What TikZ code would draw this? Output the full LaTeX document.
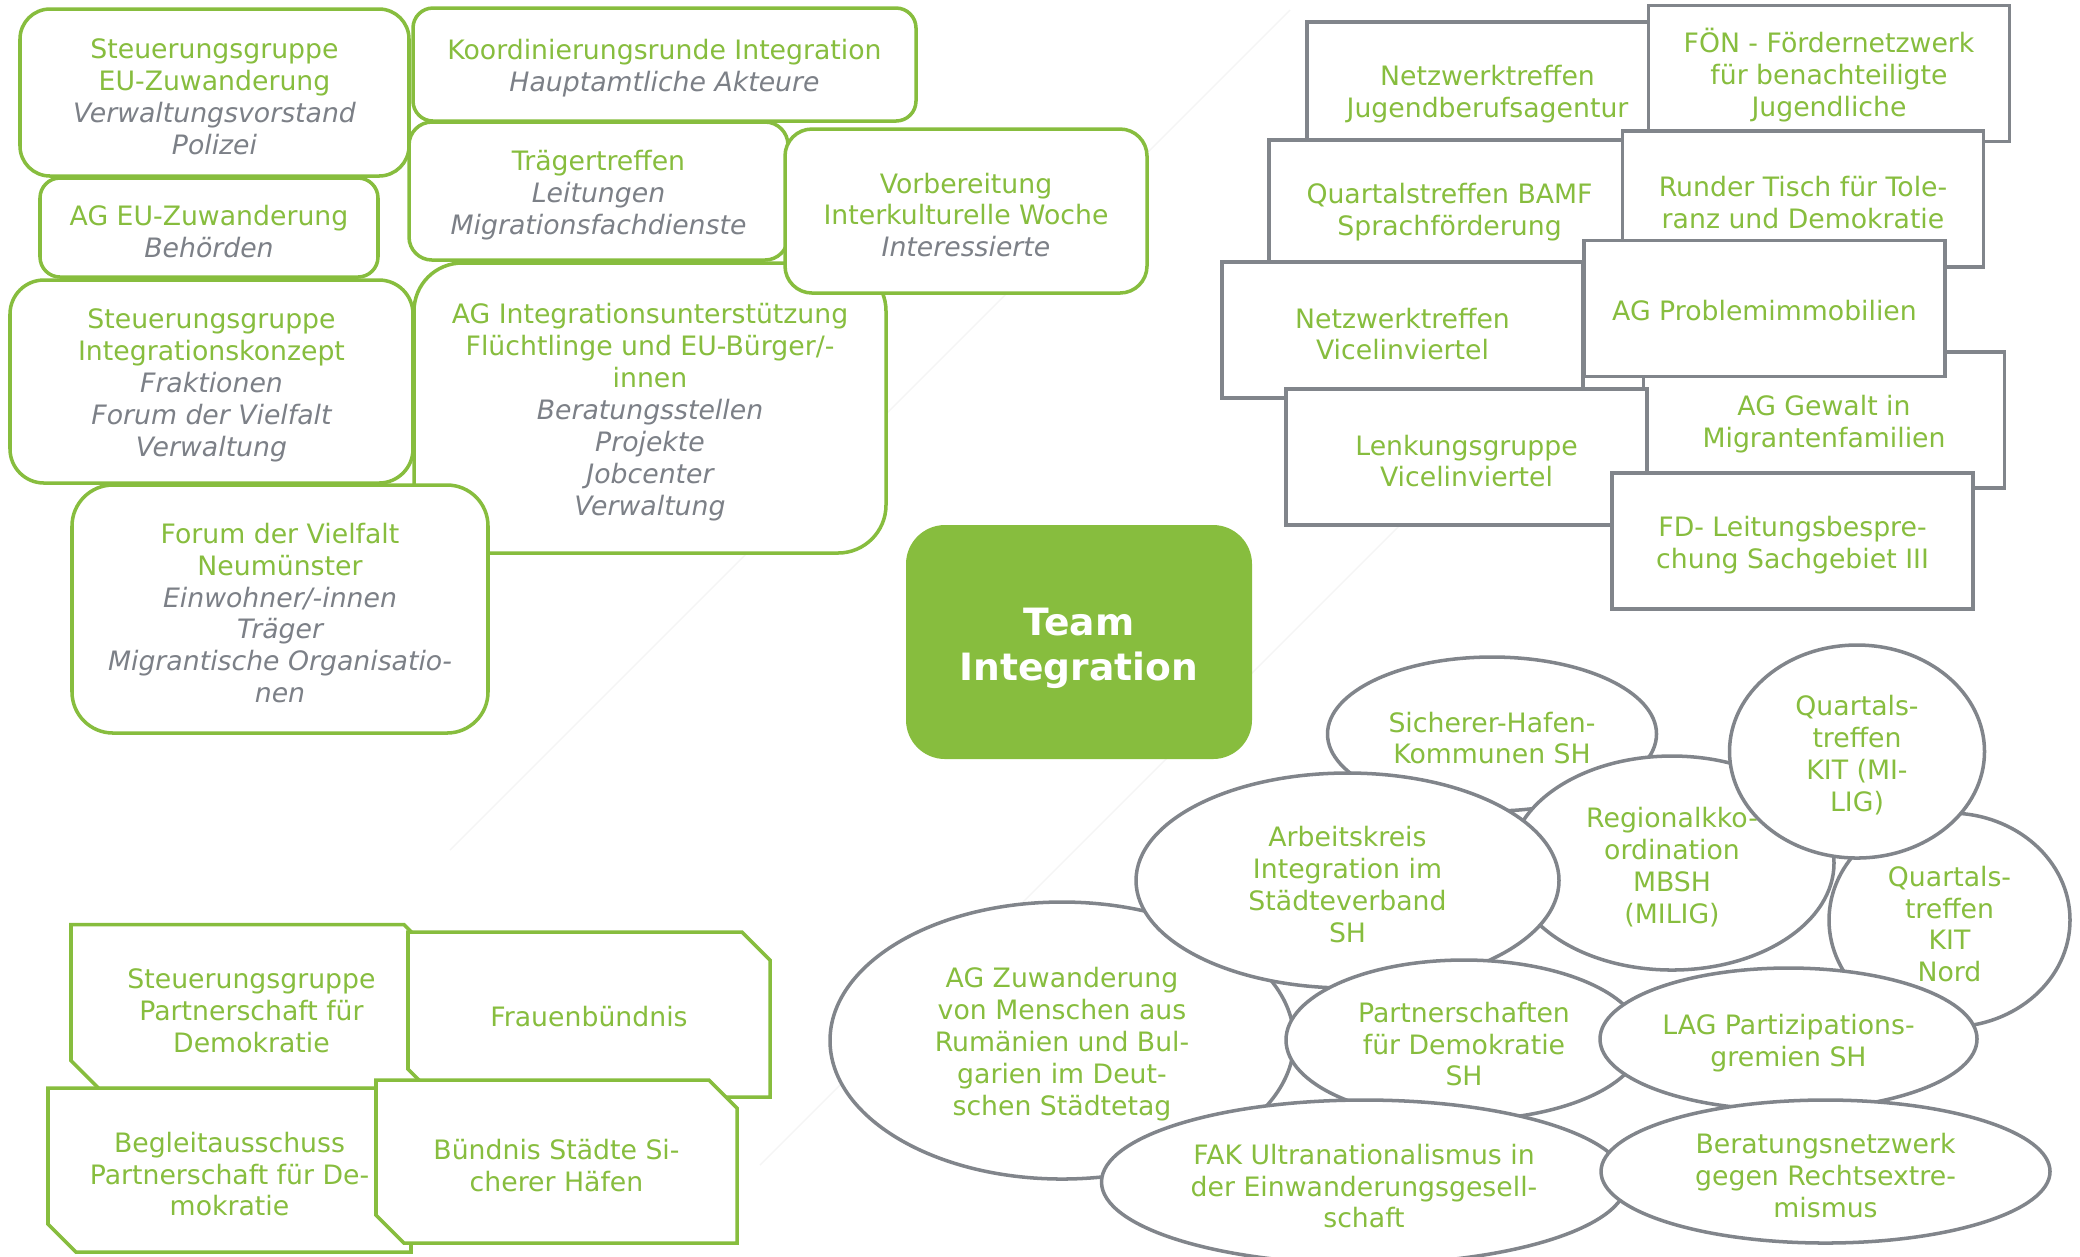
\documentclass[tikz,border=0pt]{standalone}
\usepackage{fontspec}
\setmainfont{DejaVu Sans}
\usetikzlibrary{shapes.geometric}
\definecolor{leafgreen}{RGB}{135,189,62}
\definecolor{slategray}{RGB}{129,133,139}
\definecolor{notegray}{RGB}{124,128,135}
\newcommand{\who}[1]{{\color{notegray}\itshape #1}}
% taller first line, so that a block of lines sits a bit lower
\newcommand{\liftline}{\vrule height 1.06em width 0pt depth 0pt\relax}
\newcommand{\liftone}{\vrule height 0.92em width 0pt depth 0pt\relax}
% frame with cut corners (top right, bottom left) round a centre coordinate
\newcommand{\snipframe}[3]{%
  \filldraw[snipline] ([shift={(-#2,-#3)}]#1) -- ([shift={(#2-28,-#3)}]#1)
    -- ([shift={(#2,28-#3)}]#1) -- ([shift={(#2,#3)}]#1)
    -- ([shift={(28-#2,#3)}]#1) -- ([shift={(-#2,#3-28)}]#1) -- cycle;}
\tikzset{
  every node/.style={font=\fontsize{7.6}{9.1}\selectfont, text=leafgreen, align=center},
  grp/.style={draw=leafgreen, fill=white, line width=1pt},
  meet/.style={draw=slategray, fill=white, line width=1pt, minimum width=3.61cm, minimum height=1.36cm},
  circ/.style={ellipse, draw=slategray, fill=white, line width=1pt, inner sep=0pt},
  snipline/.style={draw=leafgreen, fill=white, line width=1pt, line join=miter},
  team/.style={fill=leafgreen, rounded corners=3.9mm, minimum width=3.46cm, minimum height=2.34cm,
    text=white, font=\fontsize{10.7}{12.8}\selectfont\bfseries},
  ghost/.style={draw=black!4, line width=0.4pt}
}
\begin{document}
\begin{tikzpicture}[x=0.1mm, y=-0.1mm]
\useasboundingbox (0,0) rectangle (2080,1256);

% faint guide lines behind everything
\coordinate (g1a) at (1290,10);
\coordinate (g1b) at (450,850);
\coordinate (g2a) at (1400,525);
\coordinate (g2b) at (760,1165);
\draw[ghost] (g1a) -- (g1b);
\draw[ghost] (g2a) -- (g2b);

% green groups, top left
\node[grp, rounded corners=3mm, minimum width=3.89cm, minimum height=1.67cm] (sgEU) at (214.5,92.5)
  {\liftline Steuerungsgruppe\\EU-Zuwanderung\\\who{Verwaltungsvorstand}\\\who{Polizei}};
\node[grp, rounded corners=2mm, minimum width=5.03cm, minimum height=1.13cm] (koord) at (664.5,64.5)
  {\liftline Koordinierungsrunde Integration\\\who{Hauptamtliche Akteure}};
\node[grp, rounded corners=2mm, minimum width=3.38cm, minimum height=0.99cm] (agEU) at (209,227.5)
  {\liftline AG EU-Zuwanderung\\\who{Behörden}};
\node[grp, rounded corners=2.3mm, minimum width=3.79cm, minimum height=1.38cm] (traeger) at (598.5,191)
  {\liftline Trägertreffen\\\who{Leitungen}\\\who{Migrationsfachdienste}};
\node[grp, rounded corners=3.4mm, minimum width=4.03cm, minimum height=2.03cm] (sgIK) at (211.5,381.5)
  {\liftline Steuerungsgruppe\\Integrationskonzept\\\who{Fraktionen}\\\who{Forum der Vielfalt}\\\who{Verwaltung}};
\node[grp, rounded corners=4.8mm, minimum width=4.72cm, minimum height=2.90cm] (agInt) at (650,408)
  {\liftline AG Integrationsunterstützung\\Flüchtlinge und EU-Bürger/-\\innen\\\who{Beratungsstellen}\\\who{Projekte}\\\who{Jobcenter}\\\who{Verwaltung}};
\node[grp, rounded corners=2.7mm, minimum width=3.62cm, minimum height=1.64cm] (vorb) at (966,211)
  {\liftline Vorbereitung\\Interkulturelle Woche\\\who{Interessierte}};
\node[grp, rounded corners=4.1mm, minimum width=4.16cm, minimum height=2.48cm] (forum) at (280,609)
  {\liftline Forum der Vielfalt\\Neumünster\\\who{Einwohner/-innen}\\\who{Träger}\\\who{Migrantische Organisatio-}\\\who{nen}};

% grey meetings, top right
\node[meet] (nwJBA) at (1487.5,90) {\liftline Netzwerktreffen\\Jugendberufsagentur};
\node[meet] (foen) at (1829,73.5) {\liftline FÖN - Fördernetzwerk\\für benachteiligte\\Jugendliche};
\node[meet] (bamf) at (1449.5,208) {\liftline Quartalstreffen BAMF\\Sprachförderung};
\node[meet] (rundT) at (1803,199) {\liftline Runder Tisch für Tole-\\ranz und Demokratie};
\node[meet] (nwVic) at (1402.5,330) {\liftline Netzwerktreffen\\Vicelinviertel};
\node[meet] (agGew) at (1824,420) {\liftline AG Gewalt in\\Migrantenfamilien};
\node[meet] (agProb) at (1764.5,308.5) {\liftone AG Problemimmobilien};
\node[meet] (lenkVic) at (1466.5,457) {\liftline Lenkungsgruppe\\Vicelinviertel};
\node[meet] (fdIII) at (1792.5,541) {\liftline FD- Leitungsbespre-\\chung Sachgebiet III};

% centre
\node[team] (team) at (1079,642) {\liftline Team\\Integration};

% snipped frames, bottom left
\coordinate (sgPfDc) at (251.5,1006.5);
\snipframe{sgPfDc}{180.5}{82}
\node (sgPfD) at (sgPfDc) {\liftline Steuerungsgruppe\\Partnerschaft für\\Demokratie};
\coordinate (frauc) at (589,1014.5);
\snipframe{frauc}{181}{82.5}
\node (frau) at (frauc) {\liftone Frauenbündnis};
\coordinate (begleitc) at (229.5,1170);
\snipframe{begleitc}{181.5}{82}
\node (begleit) at (begleitc) {\liftline Begleitausschuss\\Partnerschaft für De-\\mokratie};
\coordinate (haefenc) at (556.5,1161.5);
\snipframe{haefenc}{180.5}{81.5}
\node (haefen) at (haefenc) {\liftline Bündnis Städte Si-\\cherer Häfen};

% ellipses, bottom right
\node[circ, minimum width=3.29cm, minimum height=1.54cm] (safeH) at (1492,734) {\liftline Sicherer-Hafen-\\Kommunen SH};
\node[circ, minimum width=3.24cm, minimum height=2.14cm] (regio) at (1672,863) {\liftline Regionalkko-\\ordination\\MBSH\\(MILIG)};
\node[circ, minimum width=2.41cm, minimum height=2.14cm] (kitNord) at (1949.5,920) {\liftline Quartals-\\treffen\\KIT\\Nord};
\node[circ, minimum width=2.55cm, minimum height=2.13cm] (kitMilig) at (1857,751.5) {\liftline Quartals-\\treffen\\KIT (MI-\\LIG)};
\node[circ, minimum width=4.64cm, minimum height=2.77cm] (agRB) at (1062,1040.5) {\liftline AG Zuwanderung\\von Menschen aus\\Rumänien und Bul-\\garien im Deut-\\schen Städtetag};
\node[circ, minimum width=4.23cm, minimum height=2.15cm] (arbK) at (1347.5,880.5) {\liftline Arbeitskreis\\Integration im\\Städteverband\\SH};
\node[circ, minimum width=3.56cm, minimum height=1.60cm] (pfd) at (1464,1040) {\liftline Partnerschaften\\für Demokratie\\SH};
\node[circ, minimum width=3.77cm, minimum height=1.42cm] (lag) at (1788.5,1039) {\liftline LAG Partizipations-\\gremien SH};
\node[circ, minimum width=5.25cm, minimum height=1.64cm] (fak) at (1364,1182) {\liftline FAK Ultranationalismus in\\der Einwanderungsgesell-\\schaft};
\node[circ, minimum width=4.49cm, minimum height=1.43cm] (berat) at (1825.5,1171.5) {\liftline Beratungsnetzwerk\\gegen Rechtsextre-\\mismus};
\end{tikzpicture}
\end{document}
